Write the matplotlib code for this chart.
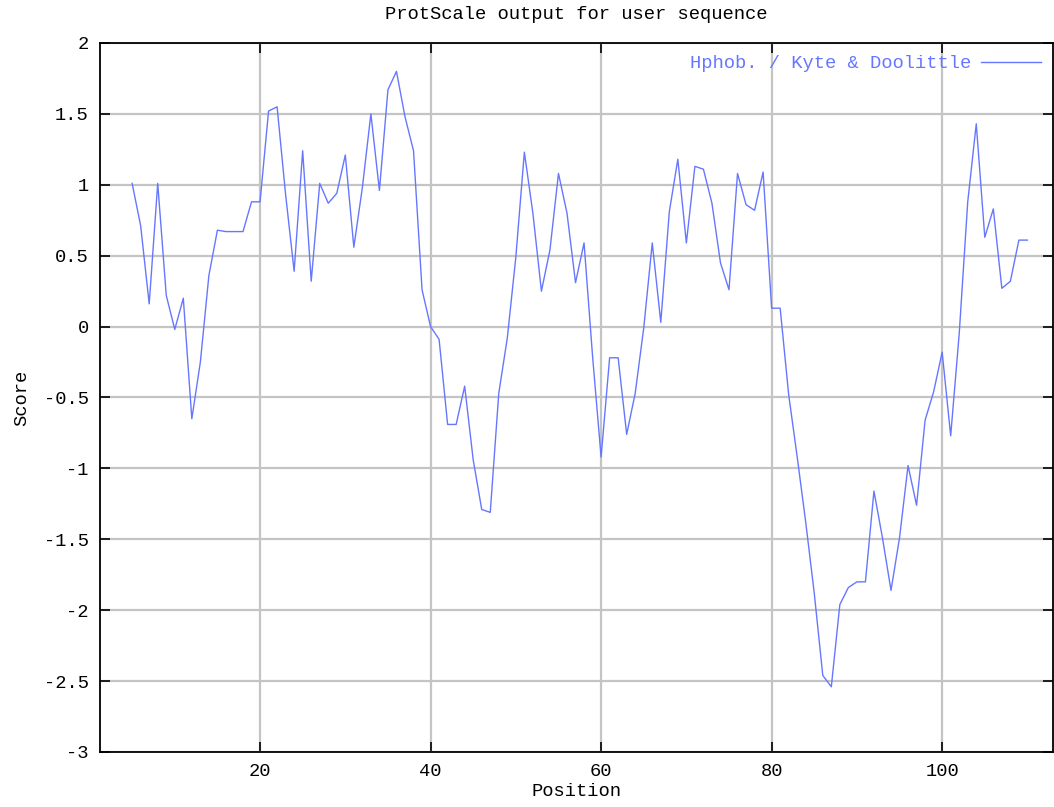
import numpy as np
import matplotlib
matplotlib.use("Agg")
import matplotlib.pyplot as plt

# Kyte & Doolittle hydrophobicity, window centred positions
positions = list(range(5, 111))
scores = [
    1.01, 0.71, 0.16, 1.01, 0.22, -0.02, 0.20, -0.65, -0.25, 0.36,
    0.68, 0.67, 0.67, 0.67, 0.88, 0.88, 1.52, 1.55, 0.93, 0.39,
    1.24, 0.32, 1.01, 0.87, 0.94, 1.21, 0.56, 0.98, 1.50, 0.96,
    1.67, 1.80, 1.48, 1.24, 0.26, 0.00, -0.09, -0.69, -0.69, -0.42,
    -0.94, -1.29, -1.31, -0.47, -0.08, 0.49, 1.23, 0.80, 0.25, 0.54,
    1.08, 0.80, 0.31, 0.59, -0.21, -0.92, -0.22, -0.22, -0.76, -0.47,
    -0.01, 0.59, 0.03, 0.81, 1.18, 0.59, 1.13, 1.11, 0.87, 0.45,
    0.26, 1.08, 0.86, 0.82, 1.09, 0.13, 0.13, -0.48, -0.92, -1.38,
    -1.88, -2.46, -2.54, -1.96, -1.84, -1.80, -1.80, -1.16, -1.49, -1.86,
    -1.49, -0.98, -1.26, -0.66, -0.46, -0.18, -0.77, -0.05, 0.88, 1.43,
    0.63, 0.83, 0.27, 0.32, 0.61, 0.61,
]
x_ticks = [20, 40, 60, 80, 100]
y_ticks = [-3, -2.5, -2, -1.5, -1, -0.5, 0, 0.5, 1, 1.5, 2]
y_labels = ["-3", "-2.5", "-2", "-1.5", "-1", "-0.5", "0", "0.5", "1", "1.5", "2"]

plt.rcParams['font.family'] = ['Liberation Mono', 'DejaVu Sans Mono']
fs = 13.5
blue = '#6677ff'

fig = plt.figure(figsize=(10.54, 8.07), dpi=100)
ax = fig.add_axes([100 / 1054, 1 - 752 / 807, 953 / 1054, 709 / 807])

ax.plot(positions, scores, color=blue, lw=1.0, label="Hphob. / Kyte & Doolittle")

ax.set_xlim(1.23, 113.0)
ax.set_ylim(-3, 2)
ax.set_xticks(x_ticks)
ax.set_xticklabels([str(t) for t in x_ticks], fontsize=fs)
ax.set_yticks(y_ticks)
ax.set_yticklabels(y_labels, fontsize=fs)
ax.tick_params(direction='in', length=7, width=1.2, top=True, right=True,
               colors='black', pad=8)
ax.grid(True, color='#c4c4c4', lw=1.6)
ax.set_axisbelow(True)
for s in ax.spines.values():
    s.set_linewidth(1.3)

ax.set_title("ProtScale output for user sequence", fontsize=fs, pad=17)
ax.set_xlabel("Position", fontsize=fs, labelpad=2)
ax.set_ylabel("Score", fontsize=fs, labelpad=10)

leg = ax.legend(loc='upper right', frameon=False, markerfirst=False,
                fontsize=fs, handlelength=3.2, borderaxespad=0.25,
                handletextpad=0.5)
for t in leg.get_texts():
    t.set_color(blue)

fig.savefig("out.png", dpi=100)
